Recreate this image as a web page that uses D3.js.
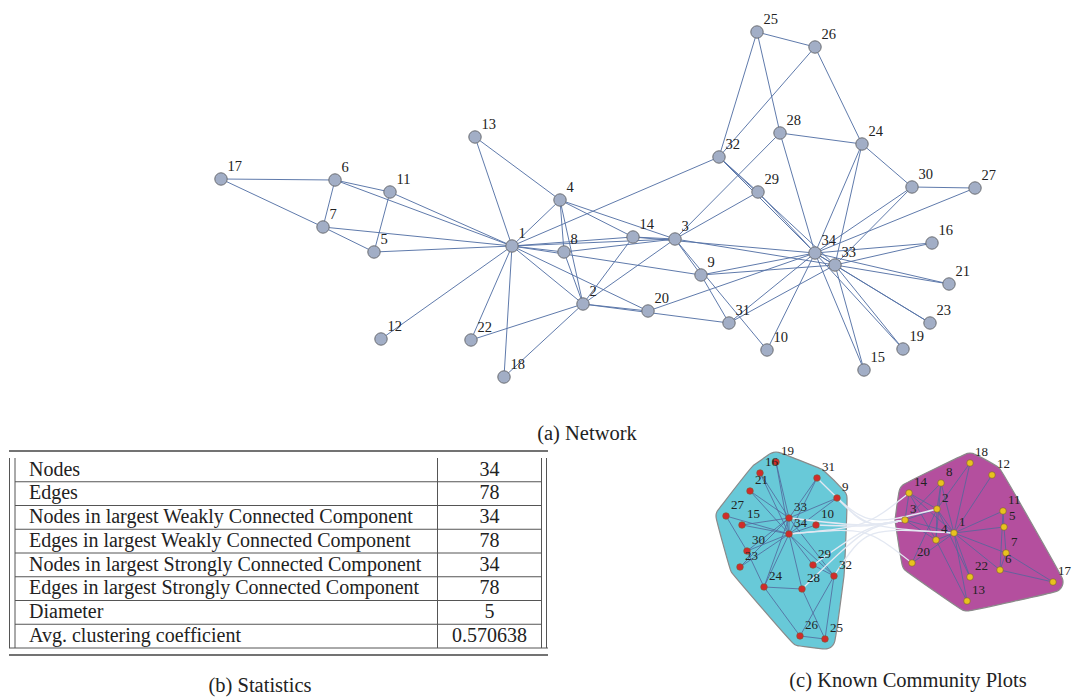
<!DOCTYPE html>
<html><head><meta charset="utf-8">
<script src="https://cdn.jsdelivr.net/npm/d3@7"></script>
<style>
html,body{margin:0;padding:0;background:#fff;}
svg{display:block;}
text{font-family:"Liberation Serif","Times New Roman",serif;fill:#222;}
</style></head>
<body>
<svg id="chart" width="1072" height="698"></svg>
<script>
// ---------- DATA ----------
const nodeIds = d3.range(1, 35);
// Zachary karate club edges
const edges = [
 [1,2],[1,3],[1,4],[1,5],[1,6],[1,7],[1,8],[1,9],[1,11],[1,12],[1,13],[1,14],[1,18],[1,20],[1,22],[1,32],
 [2,3],[2,4],[2,8],[2,14],[2,18],[2,20],[2,22],[2,31],
 [3,4],[3,8],[3,9],[3,10],[3,14],[3,28],[3,29],[3,33],
 [4,8],[4,13],[4,14],[5,7],[5,11],[6,7],[6,11],[6,17],[7,17],
 [9,31],[9,33],[9,34],[10,34],[14,34],[15,33],[15,34],[16,33],[16,34],
 [19,33],[19,34],[20,34],[21,33],[21,34],[23,33],[23,34],
 [24,26],[24,28],[24,30],[24,33],[24,34],[25,26],[25,28],[25,32],[26,32],
 [27,30],[27,34],[28,34],[29,32],[29,34],[30,33],[30,34],[31,33],[31,34],
 [32,33],[32,34],[33,34]
];
// (a) force layout result (layout units), indexed by node id 1..34
const netLayoutX = [512,583,675,560,374,335,323,564,701,767,390,381,475,633,864,932,221,504,903,648,949,471,930,862,757,815,975,780,758,912,729,719,835,815];
const netLayoutY = [246,304,239,200,252,180,227,252,275,350,192,339,137,237,370,243,179,377,349,311,284,340,323,144,32,47,188,133,192,187,323,157,265,253];
// (c) known communities
const communityA = [1,2,3,4,5,6,7,8,11,12,13,14,17,18,20,22];
const communityB = [9,10,15,16,19,21,23,24,25,26,27,28,29,30,31,32,33,34];
const commLayoutX = [954,937,905,936,1004,1000,1006,941,837,816,1003,992,967,909,742,760,1053,970,776,912,750,970,740,764,825,800,726,802,813,747,817,834,789,789];
const commLayoutY = [533,509,520,540,527,570,553,483,498,525,511,475,601,493,525,473,582,463,462,563,491,577,567,587,639,636,516,589,565,551,478,576,518,534];
// (b) statistics table
const statLabels = ["Nodes","Edges","Nodes in largest Weakly Connected Component","Edges in largest Weakly Connected Component",
  "Nodes in largest Strongly Connected Component","Edges in largest Strongly Connected Component","Diameter","Avg. clustering coefficient"];
const statValues = ["34","78","34","78","34","78","5","0.570638"];
const captions = ["(a) Network","(b) Statistics","(c) Known Community Plots"];

// ---------- DRAW ----------
const svg = d3.select("#chart");

// (a) Network
const nx = d3.scaleLinear().domain([221,975]).range([221,975]);
const ny = d3.scaleLinear().domain([32,377]).range([32,377]);
const netPos = id => [nx(netLayoutX[id-1]), ny(netLayoutY[id-1])];
const gA = svg.append("g");
gA.append("g").selectAll("line").data(edges).join("line")
  .attr("x1", d=>netPos(d[0])[0]).attr("y1", d=>netPos(d[0])[1])
  .attr("x2", d=>netPos(d[1])[0]).attr("y2", d=>netPos(d[1])[1])
  .attr("stroke","#5673a6").attr("stroke-width",0.95);
gA.append("g").selectAll("circle").data(nodeIds).join("circle")
  .attr("cx", d=>netPos(d)[0]).attr("cy", d=>netPos(d)[1]).attr("r",6.2)
  .attr("fill","#a2aec6").attr("stroke","#6d6f74").attr("stroke-width",1);
gA.append("g").selectAll("text").data(nodeIds).join("text")
  .attr("x", d=>netPos(d)[0]+6.5).attr("y", d=>netPos(d)[1]-8.5)
  .attr("font-size",14.5).text(d=>d);
svg.append("text").attr("x",587).attr("y",440).attr("text-anchor","middle")
  .attr("font-size",20.5).text(captions[0]);

// (b) Table
const tb = svg.append("g");
const tx0 = 9, tx1 = 548, boxTop = 458, rowH = 23.75;
const ty = d3.scaleBand().domain(d3.range(statLabels.length)).range([boxTop, boxTop + rowH*statLabels.length]);
const boxBot = boxTop + rowH*statLabels.length;
const lc = "#555";
tb.append("line").attr("x1",tx0).attr("x2",tx1).attr("y1",451).attr("y2",451).attr("stroke","#444").attr("stroke-width",1.4);
tb.append("line").attr("x1",tx0).attr("x2",tx1).attr("y1",boxBot+7).attr("y2",boxBot+7).attr("stroke","#444").attr("stroke-width",1.4);
tb.append("line").attr("x1",tx0).attr("x2",tx1).attr("y1",boxBot).attr("y2",boxBot).attr("stroke",lc).attr("stroke-width",1);
[9.5,15,437.5,541.5,546.5].forEach(x=>{
  tb.append("line").attr("x1",x).attr("x2",x).attr("y1",boxTop).attr("y2",boxBot).attr("stroke",lc).attr("stroke-width",1);
});
tb.selectAll("line.row").data(d3.range(1,statLabels.length)).join("line").attr("class","row")
  .attr("x1",15).attr("x2",541.5).attr("y1",d=>ty(d)).attr("y2",d=>ty(d)).attr("stroke",lc).attr("stroke-width",1);
tb.selectAll("text.lab").data(statLabels).join("text").attr("class","lab")
  .attr("x",29).attr("y",(d,i)=>ty(i)+17.5).attr("font-size",20).text(d=>d);
tb.selectAll("text.val").data(statValues).join("text").attr("class","val")
  .attr("x",489.5).attr("y",(d,i)=>ty(i)+17.5).attr("text-anchor","middle").attr("font-size",20).text(d=>d);
svg.append("text").attr("x",260).attr("y",692).attr("text-anchor","middle").attr("font-size",20.5).text(captions[1]);

// (c) Community plot
const cx = d3.scaleLinear().domain([726,1053]).range([726,1053]);
const cy = d3.scaleLinear().domain([462,639]).range([462,639]);
const cPos = id => [cx(commLayoutX[id-1]), cy(commLayoutY[id-1])];
const gC = svg.append("g");
function hullPath(ids, pad){
  const pts = [];
  ids.forEach(id=>{ const p=cPos(id); for(let k=0;k<24;k++){const a=k/24*2*Math.PI; pts.push([p[0]+pad*Math.cos(a), p[1]+pad*Math.sin(a)]);} });
  const h = d3.polygonHull(pts);
  return d3.line().curve(d3.curveCatmullRomClosed)(h);
}
gC.append("path").attr("d",hullPath(communityB,10)).attr("fill","#68c9d8").attr("stroke","#8a8a8a").attr("stroke-width",1.2);
gC.append("path").attr("d",hullPath(communityA,10)).attr("fill","#b44f9e").attr("stroke","#8a8a8a").attr("stroke-width",1.2);
const inA = new Set(communityA);
const intra = edges.filter(e=>inA.has(e[0])===inA.has(e[1]));
const inter = edges.filter(e=>inA.has(e[0])!==inA.has(e[1]));
gC.append("g").selectAll("line").data(intra).join("line")
  .attr("x1", d=>cPos(d[0])[0]).attr("y1", d=>cPos(d[0])[1])
  .attr("x2", d=>cPos(d[1])[0]).attr("y2", d=>cPos(d[1])[1])
  .attr("stroke","#52679c").attr("stroke-width",0.9).attr("stroke-opacity",0.9);
const bundle = [cx(866), cy(527)];
gC.append("g").selectAll("path").data(inter).join("path")
  .attr("d", d=>{const a=cPos(d[0]), b=cPos(d[1]); return `M${a[0]},${a[1]}C${bundle[0]},${bundle[1]} ${bundle[0]},${bundle[1]} ${b[0]},${b[1]}`;})
  .attr("fill","none").attr("stroke","#e3e8f2").attr("stroke-width",1.3);
gC.append("g").selectAll("circle").data(nodeIds).join("circle")
  .attr("cx", d=>cPos(d)[0]).attr("cy", d=>cPos(d)[1]).attr("r",3.3)
  .attr("fill", d=>inA.has(d)?"#e8c21e":"#d22b2b").attr("stroke","#7a5a30").attr("stroke-width",0.6);
gC.append("g").selectAll("text").data(nodeIds).join("text")
  .attr("x", d=>cPos(d)[0]+5).attr("y", d=>cPos(d)[1]-7)
  .attr("font-size",13).text(d=>d);
svg.append("text").attr("x",908).attr("y",687).attr("text-anchor","middle").attr("font-size",20.5).text(captions[2]);
</script>
</body></html>
